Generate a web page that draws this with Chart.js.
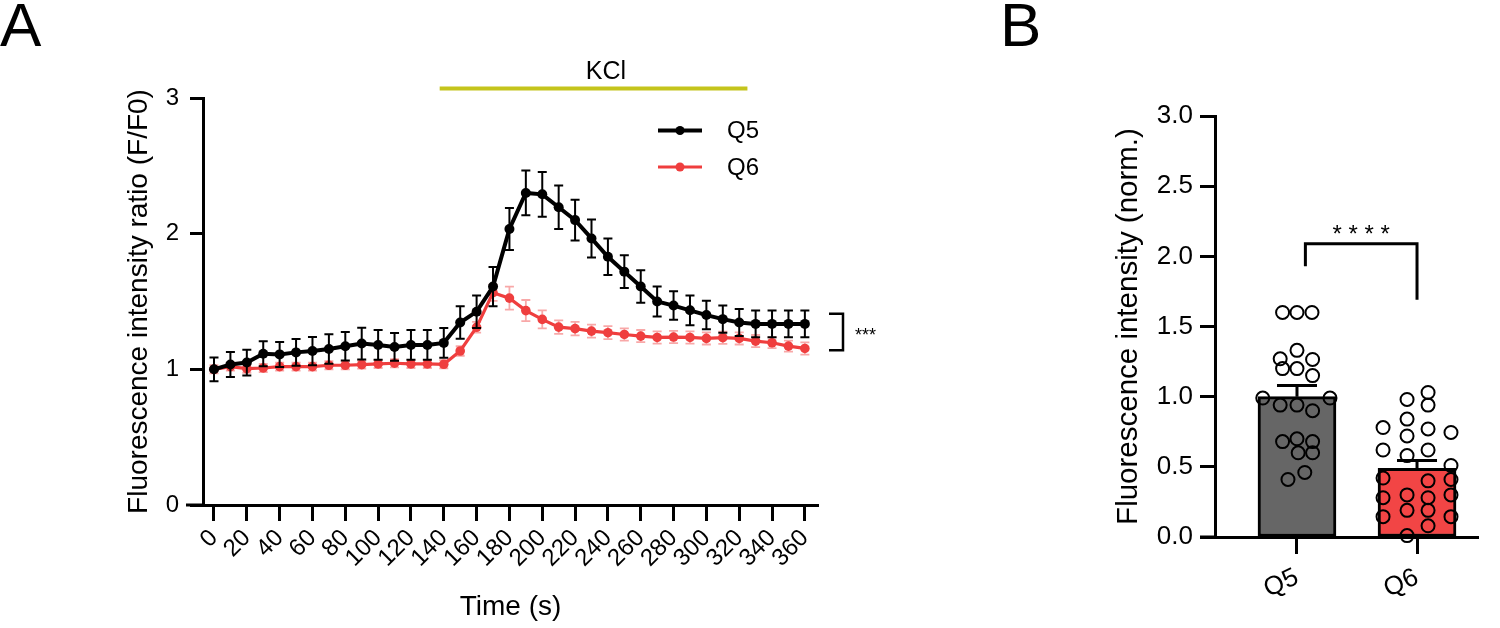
<!DOCTYPE html>
<html>
<head>
<meta charset="utf-8">
<script src="https://cdn.jsdelivr.net/npm/chart.js@4.4.1/dist/chart.umd.min.js"></script>
<style>
  html, body { margin: 0; padding: 0; background: #fff; }
  body { width: 1500px; height: 628px; position: relative; overflow: hidden; font-family: "Liberation Sans", Arial, sans-serif; }
  #chartA { position: absolute; left: 0; top: 0; }
  #chartB { position: absolute; left: 900px; top: 0; }
  .panel { position: absolute; font-size: 62px; line-height: 1; color: #000; }
</style>
</head>
<body>
<div class="panel" style="left:0px;top:-6px">A</div>
<div class="panel" style="left:1000px;top:-6px">B</div>
<canvas id="chartA" width="900" height="628"></canvas>
<canvas id="chartB" width="600" height="628"></canvas>
<script>
// ---- panel A data (time course) ----
const timePoints = [0, 10, 20, 30, 40, 50, 60, 70, 80, 90, 100, 110, 120, 130, 140, 150, 160, 170, 180,
  190, 200, 210, 220, 230, 240, 250, 260, 270, 280, 290, 300, 310, 320, 330, 340, 350, 360];
const q5Mean = [1.00, 1.035, 1.05, 1.115, 1.11, 1.125, 1.135, 1.15, 1.17, 1.19, 1.18, 1.165, 1.18, 1.18, 1.195,
  1.345, 1.425, 1.61, 2.035, 2.30, 2.29, 2.195, 2.10, 1.965, 1.83, 1.72, 1.61, 1.50, 1.47, 1.435, 1.40,
  1.37, 1.345, 1.335, 1.335, 1.335, 1.335];
const q5Sem = [0.088, 0.092, 0.095, 0.092, 0.092, 0.098, 0.104, 0.108, 0.105, 0.117, 0.11, 0.102, 0.11, 0.11, 0.11,
  0.12, 0.12, 0.145, 0.155, 0.165, 0.165, 0.16, 0.15, 0.14, 0.135, 0.12, 0.12, 0.11, 0.105, 0.11, 0.105,
  0.1, 0.1, 0.098, 0.098, 0.098, 0.098];
const q6Mean = [1.00, 1.02, 1.005, 1.01, 1.02, 1.02, 1.02, 1.03, 1.03, 1.035, 1.04, 1.045, 1.04, 1.04, 1.037,
  1.135, 1.31, 1.565, 1.525, 1.433, 1.368, 1.311, 1.30, 1.282, 1.27, 1.257, 1.245, 1.235, 1.238, 1.235, 1.228,
  1.233, 1.228, 1.208, 1.196, 1.171, 1.154];
const q6Sem = [0.03, 0.03, 0.03, 0.03, 0.03, 0.03, 0.03, 0.03, 0.03, 0.03, 0.03, 0.03, 0.03, 0.03, 0.03,
  0.035, 0.04, 0.06, 0.085, 0.078, 0.066, 0.05, 0.05, 0.048, 0.048, 0.045, 0.045, 0.045, 0.045, 0.045, 0.045,
  0.045, 0.045, 0.045, 0.04, 0.04, 0.045];
const timeTicks = [0, 20, 40, 60, 80, 100, 120, 140, 160, 180, 200, 220, 240, 260, 280, 300, 320, 340, 360];
const ratioTicks = [0, 1, 2, 3];
const kclWindow = [137.5, 325];

// ---- panel B data (bars + individual cells) ----
const groups = ['Q5', 'Q6'];
const barMeans = [1.0, 0.49];
const barSems = [0.08, 0.055];
const q5Values = [1.60, 1.60, 1.60, 1.33, 1.27, 1.265, 1.20, 1.20, 1.15, 0.99, 0.99, 0.94, 0.94, 0.90,
  0.68, 0.70, 0.68, 0.60, 0.60, 0.41, 0.46];
const q5Jitter = [-0.12, 0, 0.125, 0, -0.14, 0.13, -0.12, 0, 0.13, -0.285, 0.275, -0.14, 0, 0.13,
  -0.12, 0, 0.13, 0.01, 0.13, -0.075, 0.065];
const q6Values = [1.03, 0.98, 0.94, 0.84, 0.78, 0.77, 0.745, 0.72, 0.62, 0.62, 0.58, 0.51, 0.42, 0.40, 0.41,
  0.30, 0.28, 0.28, 0.30, 0.19, 0.19, 0.145, 0.145, 0.08, 0.01];
const q6Jitter = [0.092, -0.083, 0.092, -0.083, -0.283, 0.092, 0.283, -0.083, -0.283, 0.092, -0.083, 0.283, -0.283, 0.092, 0.283,
  -0.083, -0.283, 0.092, 0.283, -0.083, 0.092, -0.283, 0.283, 0.092, -0.083];
const normTicks = [0, 0.5, 1.0, 1.5, 2.0, 2.5, 3.0];

const FONT = '"Liberation Sans", Arial, sans-serif';
const RED = '#ef3e3e';

// error bars drawn under each line
const errorBarsA = {
  id: 'errorBarsA',
  beforeDatasetDraw(chart, args) {
    const ds = chart.data.datasets[args.index];
    if (!ds.sem) return;
    const { x, y } = chart.scales;
    const ctx = chart.ctx;
    ctx.save();
    ctx.strokeStyle = ds.semColor;
    ctx.lineWidth = ds.semWidth;
    ds.data.forEach((p, i) => {
      const px = x.getPixelForValue(p.x);
      const top = y.getPixelForValue(p.y + ds.sem[i]);
      const bot = y.getPixelForValue(p.y - ds.sem[i]);
      ctx.beginPath();
      ctx.moveTo(px, top); ctx.lineTo(px, bot);
      ctx.moveTo(px - 4.5, top); ctx.lineTo(px + 4.5, top);
      ctx.moveTo(px - 4.5, bot); ctx.lineTo(px + 4.5, bot);
      ctx.stroke();
    });
    ctx.restore();
  }
};

// KCl bar, legend, significance bracket, axis stub
const extrasA = {
  id: 'extrasA',
  afterDraw(chart) {
    const { x, y } = chart.scales;
    const ctx = chart.ctx;
    const area = chart.chartArea;
    ctx.save();
    // x axis runs a bit past the y axis
    ctx.strokeStyle = '#000';
    ctx.lineWidth = 3;
    ctx.beginPath();
    ctx.moveTo(area.left - 17, area.bottom);
    ctx.lineTo(area.left, area.bottom);
    ctx.stroke();

    // KCl application
    const ky = y.getPixelForValue(3.07);
    ctx.strokeStyle = '#c4c41c';
    ctx.lineWidth = 4;
    ctx.beginPath();
    ctx.moveTo(x.getPixelForValue(kclWindow[0]), ky);
    ctx.lineTo(x.getPixelForValue(kclWindow[1]), ky);
    ctx.stroke();
    ctx.fillStyle = '#000';
    ctx.font = '25px ' + FONT;
    ctx.textAlign = 'center';
    ctx.textBaseline = 'middle';
    ctx.fillText('KCl', 606, 72);

    // legend
    chart.data.datasets.forEach((ds, i) => {
      const ly = 130.5 + i * 36.5;
      ctx.strokeStyle = ds.borderColor;
      ctx.lineWidth = ds.borderWidth;
      ctx.beginPath();
      ctx.moveTo(658, ly); ctx.lineTo(702, ly);
      ctx.stroke();
      ctx.fillStyle = ds.borderColor;
      ctx.beginPath();
      ctx.arc(680, ly, 4.5, 0, Math.PI * 2);
      ctx.fill();
      ctx.fillStyle = '#000';
      ctx.font = '24px ' + FONT;
      ctx.textAlign = 'left';
      ctx.fillText(ds.label, 727, ly + 1);
    });

    // bracket between the plateaus
    const bx = area.right + 25;
    const bt = y.getPixelForValue(1.41);
    const bb = y.getPixelForValue(1.14);
    ctx.strokeStyle = '#000';
    ctx.lineWidth = 2.5;
    ctx.beginPath();
    ctx.moveTo(bx - 14, bt); ctx.lineTo(bx, bt); ctx.lineTo(bx, bb); ctx.lineTo(bx - 14, bb);
    ctx.stroke();
    ctx.fillStyle = '#000';
    ctx.font = '18px ' + FONT;
    ctx.textAlign = 'left';
    ctx.textBaseline = 'middle';
    ctx.fillText('***', bx + 12, (bt + bb) / 2 + 4);
    ctx.restore();
  }
};

new Chart(document.getElementById('chartA'), {
  type: 'line',
  data: {
    datasets: [
      {
        label: 'Q5',
        data: timePoints.map((t, i) => ({ x: t, y: q5Mean[i] })),
        sem: q5Sem, semColor: '#000', semWidth: 2,
        borderColor: '#000', backgroundColor: '#000', borderWidth: 4,
        pointRadius: 5, pointBorderWidth: 0, pointBackgroundColor: '#000', tension: 0
      },
      {
        label: 'Q6',
        data: timePoints.map((t, i) => ({ x: t, y: q6Mean[i] })),
        sem: q6Sem, semColor: 'rgba(239,62,62,0.45)', semWidth: 1.8,
        borderColor: RED, backgroundColor: RED, borderWidth: 3.2,
        pointRadius: 4.8, pointBorderWidth: 0, pointBackgroundColor: RED, tension: 0
      }
    ]
  },
  options: {
    responsive: false,
    animation: false,
    layout: { padding: { left: 0, top: 98, right: 82, bottom: 0 } },
    plugins: { legend: { display: false }, tooltip: { enabled: false } },
    scales: {
      x: {
        type: 'linear', min: -6.7, max: 368,
        afterBuildTicks: s => { s.ticks = timeTicks.map(v => ({ value: v })); },
        afterFit: s => { s.height = 123; },
        ticks: { autoSkip: false, minRotation: 45, maxRotation: 45, padding: 3, color: '#000', font: { family: FONT, size: 24 } },
        grid: { drawOnChartArea: false, tickLength: 16, tickWidth: 3, tickColor: '#000' },
        border: { width: 3, color: '#000' },
        title: { display: true, text: 'Time (s)', color: '#000', font: { family: FONT, size: 28 }, padding: { top: 0, bottom: 4 } }
      },
      y: {
        min: 0, max: 3,
        afterBuildTicks: s => { s.ticks = ratioTicks.map(v => ({ value: v })); },
        afterFit: s => { s.width = 203; },
        ticks: { padding: 11, color: '#000', font: { family: FONT, size: 24 } },
        grid: { drawOnChartArea: false, tickLength: 13, tickWidth: 3, tickColor: '#000' },
        border: { width: 3, color: '#000' },
        title: { display: true, text: 'Fluorescence intensity ratio (F/F0)', color: '#000', font: { family: FONT, size: 28 }, padding: { top: 122, bottom: 0 } }
      }
    }
  },
  plugins: [errorBarsA, extrasA]
});

// ---- panel B ----
const extrasB = {
  id: 'extrasB',
  afterDatasetDraw(chart, args) {
    if (args.index !== 0) return;
    const { x, y } = chart.scales;
    const ctx = chart.ctx;
    ctx.save();
    ctx.strokeStyle = '#000';
    ctx.lineWidth = 3;
    barMeans.forEach((m, i) => {
      const px = x.getPixelForValue(i);
      const top = y.getPixelForValue(m + barSems[i]);
      ctx.beginPath();
      ctx.moveTo(px, y.getPixelForValue(m)); ctx.lineTo(px, top);
      ctx.moveTo(px - 20, top); ctx.lineTo(px + 20, top);
      ctx.stroke();
    });
    ctx.restore();
  },
  afterDraw(chart) {
    const { x, y } = chart.scales;
    const ctx = chart.ctx;
    const area = chart.chartArea;
    ctx.save();
    ctx.strokeStyle = '#000';
    ctx.lineWidth = 3;
    ctx.beginPath();
    ctx.moveTo(area.left - 15, area.bottom);
    ctx.lineTo(area.left, area.bottom);
    ctx.stroke();

    // significance bracket
    const lx = x.getPixelForValue(0.07);
    const rx = x.getPixelForValue(1.0);
    const ty = y.getPixelForValue(2.09);
    ctx.beginPath();
    ctx.moveTo(lx, y.getPixelForValue(1.93));
    ctx.lineTo(lx, ty); ctx.lineTo(rx, ty);
    ctx.lineTo(rx, y.getPixelForValue(1.69));
    ctx.stroke();
    ctx.fillStyle = '#000';
    ctx.font = '24px ' + FONT;
    ctx.textAlign = 'center';
    ctx.textBaseline = 'alphabetic';
    ctx.fillText('* * * *', (lx + rx) / 2, ty - 2);
    ctx.restore();
  }
};

const circleStyle = {
  type: 'scatter', pointRadius: 6.5, pointBorderWidth: 2, pointBorderColor: '#000',
  pointBackgroundColor: 'rgba(0,0,0,0)', showLine: false, clip: false, order: 1
};

new Chart(document.getElementById('chartB'), {
  type: 'bar',
  data: {
    datasets: [
      {
        type: 'bar',
        data: groups.map((g, i) => ({ x: i, y: barMeans[i] })),
        backgroundColor: ['#666666', '#f24545'],
        borderColor: '#000', borderWidth: 3, borderSkipped: false,
        barThickness: 78, order: 2
      },
      Object.assign({ data: q5Values.map((v, i) => ({ x: 0 + q5Jitter[i], y: v })) }, circleStyle),
      Object.assign({ data: q6Values.map((v, i) => ({ x: 1 + q6Jitter[i], y: v })) }, circleStyle)
    ]
  },
  options: {
    responsive: false,
    animation: false,
    layout: { padding: { left: 0, top: 116, right: 22, bottom: 0 } },
    plugins: { legend: { display: false }, tooltip: { enabled: false } },
    scales: {
      x: {
        type: 'linear', min: -0.683, max: 1.508, offset: false,
        afterBuildTicks: s => { s.ticks = groups.map((g, i) => ({ value: i })); },
        afterFit: s => { s.height = 91; },
        ticks: {
          autoSkip: false, minRotation: 25, maxRotation: 25, padding: 8, color: '#000',
          font: { family: FONT, size: 26 },
          callback: v => groups[v]
        },
        grid: { drawOnChartArea: false, offset: false, tickLength: 17, tickWidth: 3, tickColor: '#000' },
        border: { width: 3, color: '#000' }
      },
      y: {
        min: 0, max: 3,
        afterBuildTicks: s => { s.ticks = normTicks.map(v => ({ value: v })); },
        afterFit: s => { s.width = 315; },
        ticks: { padding: 7, color: '#000', font: { family: FONT, size: 26 }, callback: v => v.toFixed(1) },
        grid: { drawOnChartArea: false, tickLength: 15, tickWidth: 3, tickColor: '#000' },
        border: { width: 3, color: '#000' },
        title: { display: true, text: 'Fluorescence intensity (norm.)', color: '#000', font: { family: FONT, size: 29.5 }, padding: { top: 211, bottom: 0 } }
      }
    }
  },
  plugins: [extrasB]
});
</script>
</body>
</html>
